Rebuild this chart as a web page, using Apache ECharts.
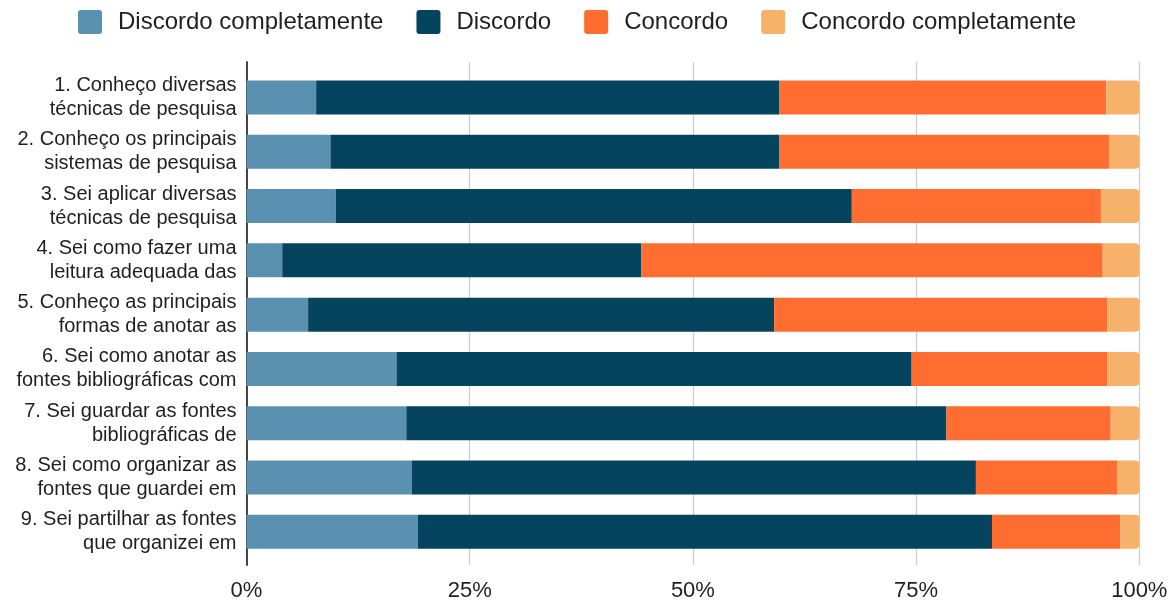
<!DOCTYPE html>
<html>
<head>
<meta charset="utf-8">
<script src="https://cdn.jsdelivr.net/npm/echarts@6/dist/echarts.min.js"></script>
<style>
  html, body { margin: 0; padding: 0; background: #ffffff; }
  #chart { width: 1172px; height: 602px; }
</style>
</head>
<body>
<div id="chart"></div>
<script>
const categories = [
  "1. Conheço diversas\ntécnicas de pesquisa",
  "2. Conheço os principais\nsistemas de pesquisa",
  "3. Sei aplicar diversas\ntécnicas de pesquisa",
  "4. Sei como fazer uma\nleitura adequada das",
  "5. Conheço as principais\nformas de anotar as",
  "6. Sei como anotar as\nfontes bibliográficas com",
  "7. Sei guardar as fontes\nbibliográficas de",
  "8. Sei como organizar as\nfontes que guardei em",
  "9. Sei partilhar as fontes\nque organizei em"
];
const seriesNames = ["Discordo completamente", "Discordo", "Concordo", "Concordo completamente"];
const discordoCompletamente = [7.8, 9.4, 10.0, 4.0, 6.9, 16.8, 17.9, 18.5, 19.2];
const discordo = [51.9, 50.3, 57.8, 40.2, 52.2, 57.7, 60.5, 63.2, 64.3];
const concordo = [36.6, 36.9, 27.9, 51.7, 37.3, 21.9, 18.4, 15.8, 14.4];
const concordoCompletamente = [3.7, 3.4, 4.3, 4.1, 3.6, 3.6, 3.2, 2.5, 2.1];
const xTickValues = [0, 25, 50, 75, 100];

const colors = ["#5b91b0", "#05445e", "#ff6d31", "#f6b26b"];
const FONT = "'Liberation Sans', Arial, sans-serif";

const chart = echarts.init(document.getElementById('chart'), null, { renderer: 'canvas' });

const seriesData = [discordoCompletamente, discordo, concordo, concordoCompletamente];

const option = {
  backgroundColor: '#ffffff',
  animation: false,
  color: colors,
  textStyle: { fontFamily: FONT },
  legend: {
    left: 73,
    top: 5,
    itemWidth: 24,
    itemHeight: 24,
    itemGap: 33,
    icon: 'path://M3,0 H21 Q24,0 24,3 V21 Q24,24 21,24 H3 Q0,24 0,21 V3 Q0,0 3,0 Z',
    textStyle: { fontFamily: FONT, fontSize: 24, color: '#1f1f1f', padding: [0, 0, 0, 11] },
    data: seriesNames
  },
  grid: [
    { left: 246.5, right: 32.7, top: 62, bottom: 37, containLabel: false },
    { left: 246.5, right: 32.7, top: 70.3, bottom: 43, containLabel: false }
  ],
  xAxis: [
    {
      gridIndex: 0, type: 'value', min: 0, max: 100, interval: 25,
      axisLine: { show: false }, axisTick: { show: false },
      splitLine: { show: true, lineStyle: { color: '#cccccc', width: 1.2 } },
      axisLabel: {
        fontFamily: FONT, fontSize: 22, color: '#1f1f1f', margin: 15,
        formatter: function (v) { return xTickValues.indexOf(v) >= 0 ? v + '%' : ''; }
      }
    },
    {
      gridIndex: 1, type: 'value', min: 0, max: 100, show: false
    }
  ],
  yAxis: [
    {
      gridIndex: 0, type: 'value', min: 0, max: 1, position: 'left',
      axisLine: { show: true, onZero: false, lineStyle: { color: '#333333', width: 1.8 } },
      axisTick: { show: false }, axisLabel: { show: false }, splitLine: { show: false }
    },
    {
      gridIndex: 1, type: 'category', inverse: true, data: categories,
      axisLine: { show: false }, axisTick: { show: false }, splitLine: { show: false },
      axisLabel: {
        fontFamily: FONT, fontSize: 20, lineHeight: 24, color: '#1f1f1f', margin: 10, align: 'right'
      }
    }
  ],
  series: seriesNames.map(function (name, i) {
    return {
      name: name,
      type: 'bar',
      stack: 'total',
      xAxisIndex: 1,
      yAxisIndex: 1,
      barWidth: 34,
      data: seriesData[i],
      itemStyle: {
        color: colors[i],
        borderRadius: i === 3 ? [0, 4, 4, 0] : 0
      }
    };
  })
};

chart.setOption(option);
</script>
</body>
</html>
